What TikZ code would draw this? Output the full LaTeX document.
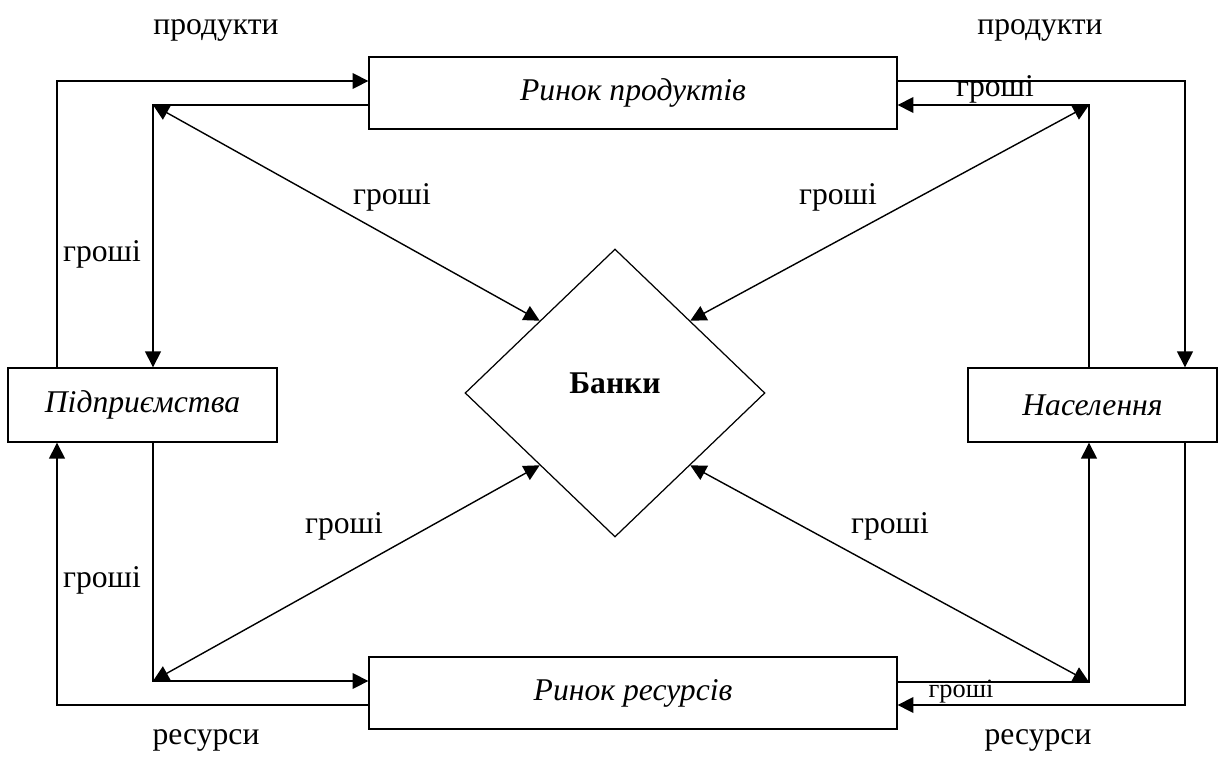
\documentclass[tikz,border=0pt]{standalone}
\usepackage{fontspec}
\setmainfont{Liberation Serif}
\usepackage{tikz}
\usetikzlibrary{shapes.geometric, arrows.meta, positioning, calc}
\tikzset{
  market/.style={rectangle, draw=black, line width=0.8pt, minimum width=10.56cm,
    minimum height=1.44cm, font=\fontsize{18}{21}\selectfont\itshape},
  agent/.style={rectangle, draw=black, line width=0.8pt,
    minimum height=1.48cm, font=\fontsize{18}{21}\selectfont\itshape},
  bank/.style={diamond, draw=black, line width=0.7pt, inner sep=0pt,
    minimum width=6cm, minimum height=5.76cm, text depth=0.4cm,
    font=\fontsize{18}{21}\selectfont\bfseries},
  arrow/.style={-{Triangle[length=9pt,width=9pt]}, line width=0.8pt},
  dblarrow/.style={{Triangle[length=9pt,width=9pt]}-{Triangle[length=9pt,width=9pt]},
    line width=0.8pt},
  lbl/.style={inner sep=0pt, font=\fontsize{18}{21}\selectfont},
  smlbl/.style={inner sep=0pt, font=\fontsize{15}{17}\selectfont},
}

\begin{document}
\begin{tikzpicture}[x=0.02cm, y=-0.02cm]
  \useasboundingbox (0,0) rectangle (1225,758);

  % markets, sectors and banks
  \node[market]                       (rinprod) at (633,93)    {Ринок продуктів};
  \node[market]                       (rinres)  at (633,693)   {Ринок ресурсів};
  \node[agent, minimum width=5.38cm]  (pidpr)   at (142.5,405) {Підприємства};
  \node[agent, minimum width=4.98cm]  (nasel)   at (1092.5,405){Населення};
  \node[bank]                         (banky)   at (615,393)   {Банки};

  % corners of the flows
  \coordinate (otl) at (57,81);
  \coordinate (otr) at (1185,81);
  \coordinate (obl) at (57,705);
  \coordinate (obr) at (1185,705);
  \coordinate (tl)  at (153,105);
  \coordinate (tr)  at (1089,105);
  \coordinate (bl)  at (153,681);
  \coordinate (br)  at (1089,682);

  \draw[arrow] (pidpr.north -| otl) |- (rinprod.west |- otl);
  \draw[arrow] (rinprod.west |- tl) -| (pidpr.north -| tl);
  \draw[arrow] (rinprod.east |- otr) -| (nasel.north -| otr);
  \draw[arrow] (nasel.north -| tr) |- (rinprod.east |- tr);
  \draw[arrow] (pidpr.south -| bl) |- (rinres.west |- bl);
  \draw[arrow] (rinres.west |- obl) -| (pidpr.south -| obl);
  \draw[arrow] (nasel.south -| obr) |- (rinres.east |- obr);
  \draw[arrow] (rinres.east |- br) -| (nasel.south -| br);

  % money to and from the banks
  \draw[dblarrow] (tl) -- (banky.north west);
  \draw[dblarrow] (tr) -- (banky.north east);
  \draw[dblarrow] (bl) -- (banky.south west);
  \draw[dblarrow] (br) -- (banky.south east);

  \node[lbl] (prodl) at (216,30)  {продукти};
  \node[lbl] (prodr) at (1040,30) {продукти};
  \node[lbl] (resl)  at (206,740) {ресурси};
  \node[lbl] (resr)  at (1038,740){ресурси};
  \node[lbl] (g1) at (392,197) {гроші};
  \node[lbl] (g2) at (838,197) {гроші};
  \node[lbl] (g3) at (102,254) {гроші};
  \node[lbl] (g4) at (102,580) {гроші};
  \node[lbl] (g5) at (344,526) {гроші};
  \node[lbl] (g6) at (890,526) {гроші};
  \node[lbl] (g7) at (995,89)  {гроші};
  \node[smlbl] (g8) at (961,692) {гроші};
\end{tikzpicture}
\end{document}
